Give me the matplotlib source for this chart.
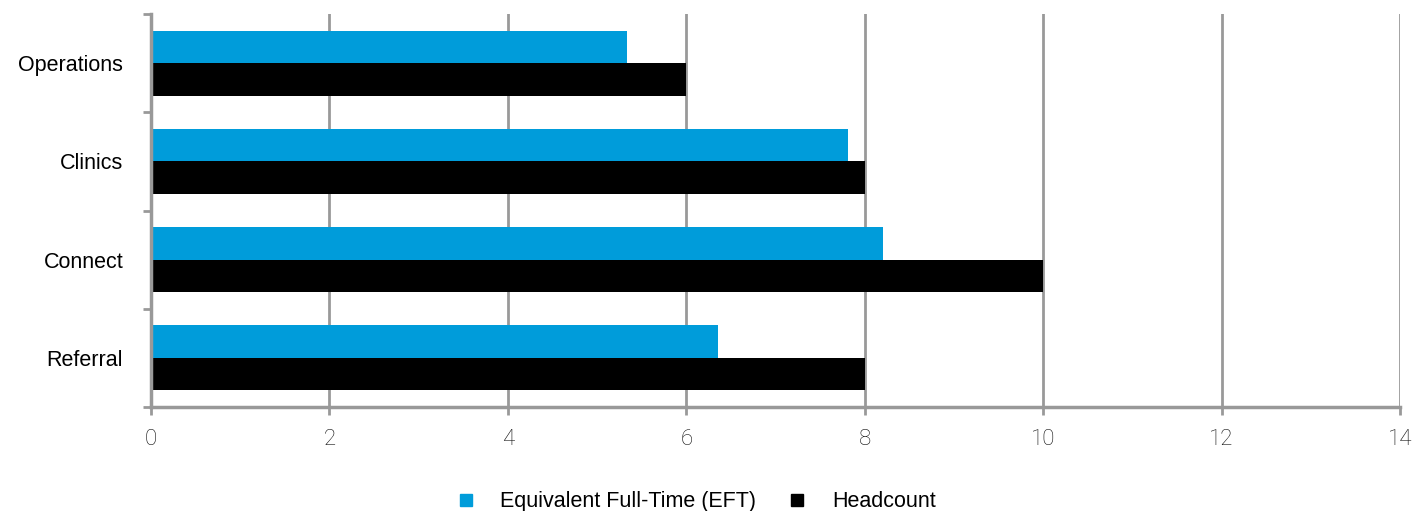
import numpy as np
import matplotlib.pyplot as plt
from matplotlib.lines import Line2D

categories = ["Operations", "Clinics", "Connect", "Referral"]
eft = [5.33, 7.81, 8.20, 6.36]
headcount = [6, 8, 10, 8]
xticks = [0, 2, 4, 6, 8, 10, 12, 14]

blue = "#009CDA"
grey = "#999999"

fig = plt.figure(figsize=(14.14, 5.11), dpi=100)
ax = fig.add_axes([0.1068, 0.2035, 0.8833, 0.769])

y = np.arange(len(categories))
h = 0.33
ax.barh(y - h / 2, eft, height=h, color=blue, zorder=3)
ax.barh(y + h / 2, headcount, height=h, color="black", zorder=3)

ax.set_ylim(len(categories) - 0.5, -0.5)
ax.set_xlim(0, 14)
ax.set_xticks(xticks)
ax.set_xticklabels([str(t) for t in xticks], family="Roboto", fontweight="light",
                   fontsize=16, color="#111111")
ax.set_yticks(y)
ax.set_yticklabels(categories, family="Liberation Sans", fontsize=15.5)
ax.set_yticks(np.arange(len(categories) + 1) - 0.5, minor=True)
ax.tick_params(axis="y", which="major", length=0, pad=20)
ax.tick_params(axis="y", which="minor", length=6, width=2, color=grey)
ax.tick_params(axis="x", length=6, width=2, color=grey, pad=10)

ax.grid(axis="x", color=grey, linewidth=2, zorder=0)
for s in ["top", "right"]:
    ax.spines[s].set_visible(False)
for s in ["left", "bottom"]:
    ax.spines[s].set_color(grey)
    ax.spines[s].set_linewidth(2.5)
    ax.spines[s].set_zorder(4)

handles = [
    Line2D([], [], marker="s", linestyle="none", color=blue, markersize=9),
    Line2D([], [], marker="s", linestyle="none", color="black", markersize=9),
]
fig.legend(handles, ["Equivalent Full-Time (EFT)", "Headcount"], loc="lower center",
           bbox_to_anchor=(0.488, -0.04), ncol=2, frameon=False,
           prop={"family": "Liberation Sans", "size": 15.5},
           handletextpad=0.6, columnspacing=0.9)

fig.savefig("out.png", dpi=100)
